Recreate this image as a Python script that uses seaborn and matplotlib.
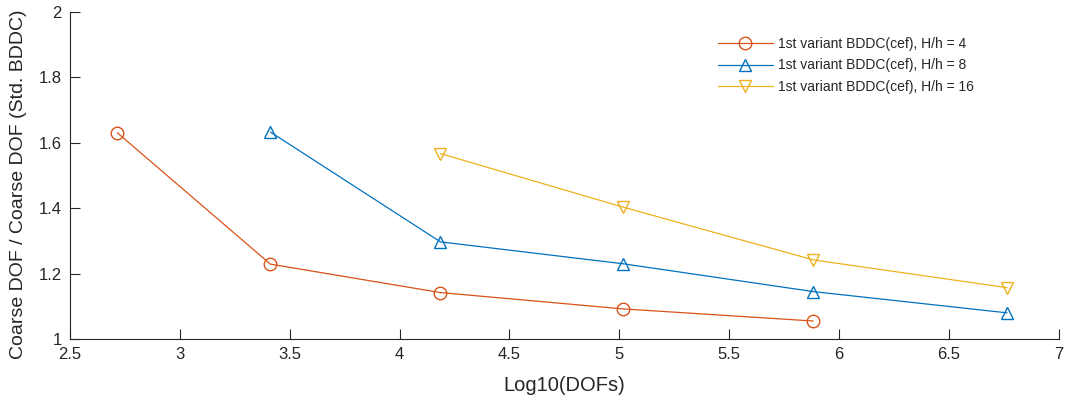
import matplotlib
matplotlib.use("Agg")
import matplotlib.pyplot as plt
import matplotlib.ticker as mticker
import seaborn as sns
import pandas as pd

# Data
x_h4 = [2.715, 3.412, 4.186, 5.018, 5.882]
y_h4 = [1.631, 1.229, 1.142, 1.092, 1.055]
x_h8 = [3.412, 4.186, 5.018, 5.882, 6.764]
y_h8 = [1.633, 1.297, 1.230, 1.145, 1.080]
x_h16 = [4.186, 5.018, 5.882, 6.764]
y_h16 = [1.567, 1.403, 1.242, 1.157]
labels = ["1st variant BDDC(cef), H/h = 4",
          "1st variant BDDC(cef), H/h = 8",
          "1st variant BDDC(cef), H/h = 16"]
x_ticks = [2.5, 3, 3.5, 4, 4.5, 5, 5.5, 6, 6.5, 7]
y_ticks = [1, 1.2, 1.4, 1.6, 1.8, 2]

colors = ["#D95319", "#0072BD", "#EDB120"]
markers = ["o", "^", "v"]

sns.set_style("ticks")
plt.rcParams["font.family"] = ["Liberation Sans", "DejaVu Sans"]
axc = "#262626"
plt.rcParams["xtick.direction"] = "in"
plt.rcParams["ytick.direction"] = "in"

fig = plt.figure(figsize=(10.68, 4.0), dpi=100)
ax = fig.add_axes([0.0655, 0.1525, 0.926, 0.8175])

series = [(x_h4, y_h4), (x_h8, y_h8), (x_h16, y_h16)]
for (xs, ys), lab, c, m in zip(series, labels, colors, markers):
    df = pd.DataFrame({"x": xs, "y": ys})
    sns.lineplot(data=df, x="x", y="y", ax=ax, color=c, marker=m,
                 markersize=9, markerfacecolor="none", markeredgecolor=c,
                 markeredgewidth=1.0, linewidth=0.9, label=lab)

ax.set_xlim(2.5, 7)
ax.set_ylim(1, 2)
ax.set_xticks(x_ticks)
ax.set_yticks(y_ticks)
ax.xaxis.set_major_formatter(mticker.FormatStrFormatter("%g"))
ax.yaxis.set_major_formatter(mticker.FormatStrFormatter("%g"))
ax.tick_params(axis="both", direction="in", length=7, width=0.8,
               colors=axc, labelsize=12, pad=6)
for s in ["top", "right"]:
    ax.spines[s].set_visible(False)
for s in ["left", "bottom"]:
    ax.spines[s].set_color(axc)
    ax.spines[s].set_linewidth(0.8)

ax.set_xlabel("Log10(DOFs)", fontsize=14.5, color=axc, labelpad=10)
ax.set_ylabel("Coarse DOF / Coarse DOF (Std. BDDC)", fontsize=14, color=axc)
ax.yaxis.set_label_coords(-0.043, 0.474)

leg = ax.legend(loc="upper left", bbox_to_anchor=(0.65, 0.94), frameon=False,
                fontsize=10, handlelength=3.9, handletextpad=0.43,
                labelspacing=0.52, borderaxespad=0)

fig.savefig("out.png", dpi=100)
